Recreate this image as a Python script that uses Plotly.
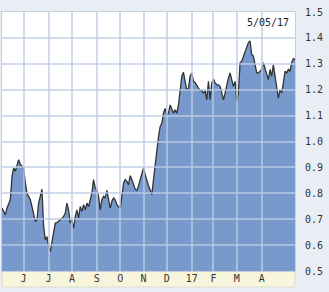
import plotly.graph_objects as go

# Price series, one value per sampled session (left -> right)
prices = [
    0.743, 0.730, 0.717, 0.743, 0.762, 0.775, 0.865, 0.898, 0.885, 0.904,
    0.930, 0.911, 0.904, 0.898, 0.840, 0.801, 0.788, 0.775, 0.749, 0.723,
    0.691, 0.698, 0.762, 0.788, 0.816, 0.672, 0.620, 0.633, 0.594, 0.575,
    0.607, 0.646, 0.685, 0.687, 0.691, 0.698, 0.704, 0.711, 0.723, 0.762,
    0.736, 0.685, 0.698, 0.665, 0.711, 0.736, 0.704, 0.749, 0.730, 0.756,
    0.736, 0.762, 0.749, 0.775, 0.801, 0.853, 0.820, 0.814, 0.788, 0.736,
    0.775, 0.788, 0.782, 0.811, 0.775, 0.743, 0.769, 0.782, 0.775, 0.756,
    0.749, 0.743, 0.788, 0.840, 0.853, 0.846, 0.833, 0.868, 0.853, 0.833,
    0.816, 0.811, 0.827, 0.853, 0.878, 0.898, 0.872, 0.846, 0.829, 0.814,
    0.794, 0.853, 0.917, 0.969,
    1.018, 1.057, 1.070, 1.109, 1.128, 1.102, 1.109, 1.141, 1.122, 1.109,
    1.122, 1.109, 1.141, 1.187, 1.252, 1.267, 1.226, 1.197, 1.206, 1.252,
    1.265, 1.232, 1.228, 1.219, 1.206, 1.196, 1.197, 1.187, 1.197, 1.161,
    1.232, 1.161, 1.226, 1.241, 1.226, 1.219, 1.219, 1.213, 1.187, 1.161,
    1.187, 1.219, 1.245, 1.265, 1.239, 1.213, 1.232, 1.154, 1.187, 1.304,
    1.310, 1.330, 1.343, 1.369, 1.382, 1.388, 1.336, 1.330, 1.291, 1.265,
    1.265, 1.271, 1.278, 1.304, 1.284, 1.258, 1.239, 1.278, 1.252, 1.297,
    1.252, 1.206, 1.167, 1.200, 1.187, 1.226, 1.271, 1.265, 1.278, 1.271,
    1.304, 1.320, 1.317,
]
sessions = list(range(len(prices)))

# Month starts (session index) and their labels
month_sessions = [13, 28, 42, 57, 71, 85, 99, 114, 127, 141, 156]
month_labels = ["J", "J", "A", "S", "O", "N", "D", "17", "F", "M", "A"]

y_ticks = [0.5, 0.6, 0.7, 0.8, 0.9, 1.0, 1.1, 1.2, 1.3, 1.4, 1.5]
date_label = "5/05/17"

FONT = "DejaVu Sans Mono"
GRID = "rgba(190,204,230,0.7)"
x_lo, x_hi = sessions[0], sessions[-1]
y_lo, y_hi = y_ticks[0], y_ticks[-1]

fig = go.Figure()
# filled price area on the lower subplot
fig.add_trace(go.Scatter(
    x=sessions, y=prices, mode="lines",
    line=dict(color="#333333", width=1.3),
    fill="tozeroy", fillcolor="#7799cc",
    hoverinfo="skip", showlegend=False, xaxis="x", yaxis="y",
))
# empty trace creating an upper subplot whose grid sits above the fill
fig.add_trace(go.Scatter(
    x=[None], y=[None], mode="lines", hoverinfo="skip",
    showlegend=False, xaxis="x2", yaxis="y2",
))

# white plot background and x-axis label band
fig.add_shape(type="rect", xref="paper", yref="paper",
              x0=0, x1=1, y0=0, y1=1,
              fillcolor="#ffffff", line=dict(width=0), layer="below")
fig.add_shape(type="rect", xref="paper", yref="paper",
              x0=0, x1=1, y0=-16 / 259, y1=0,
              fillcolor="#f7f6dd", line=dict(color="#dcdccb", width=1),
              layer="below")

fig.update_layout(
    width=329, height=292,
    margin=dict(l=2, r=34, t=12, b=21),
    paper_bgcolor="#e9eef4",
    plot_bgcolor="rgba(0,0,0,0)",
    xaxis=dict(range=[x_lo, x_hi], tickvals=month_sessions,
               ticktext=month_labels, zeroline=False, showgrid=False,
               ticks="", ticklabelstandoff=-2,
               tickfont=dict(family=FONT, size=10, color="#333333"),
               showline=True, mirror=True, linecolor="#c5cfdd", linewidth=1),
    yaxis=dict(range=[y_lo, y_hi], tickvals=y_ticks, tickformat=".1f",
               side="right", zeroline=False, showgrid=False,
               ticks="outside", ticklen=7, tickcolor="rgba(0,0,0,0)",
               tickfont=dict(family=FONT, size=10, color="#333333"),
               showline=True, mirror=True, linecolor="#c5cfdd", linewidth=1),
    xaxis2=dict(range=[x_lo, x_hi], tickvals=month_sessions, anchor="y2",
                domain=[0, 1], showgrid=True, gridcolor=GRID, gridwidth=1.5,
                showticklabels=False, ticks="", zeroline=False,
                showline=False),
    yaxis2=dict(range=[y_lo, y_hi], tickvals=y_ticks[1:-1], anchor="x2",
                domain=[0, 1], showgrid=True, gridcolor=GRID, gridwidth=1.5,
                showticklabels=False, ticks="", zeroline=False,
                showline=False),
    annotations=[dict(text=date_label, xref="paper", yref="paper",
                      x=0.985, y=0.99, xanchor="right", yanchor="top",
                      showarrow=False,
                      font=dict(family=FONT, size=10, color="#222222"))],
)

fig.write_html("out.html")
